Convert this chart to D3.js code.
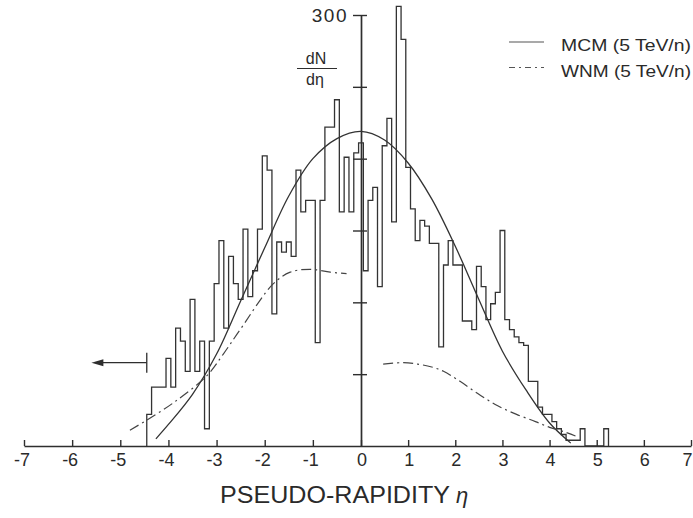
<!DOCTYPE html>
<html><head><meta charset="utf-8">
<script src="https://cdn.jsdelivr.net/npm/d3@7"></script>
<style>
body{margin:0;background:#fff}
svg{display:block}
text{font-family:"Liberation Sans",Arial,sans-serif;fill:#2a2a2a}
</style>
</head><body>
<svg id="c" width="693" height="518"></svg>
<script>
// ---- data ----
const xTickValues = [-7,-6,-5,-4,-3,-2,-1,0,1,2,3,4,5,6,7];
const yTickValues = [0,50,100,150,200,250,300];
const yTickLabels = {300:"300"};

// histogram: bins of width 0.1 in eta, first left edge at -4.45
const histFirstEdge = -4.45;
const histBinWidth = 0.1;
const histCounts = [
  22,41,41,41,61,41,82,73,52,102,      // -4.4 .. -3.5
  52,73,12,73,113,143,82,132,113,102,  // -3.4 .. -2.5
  151,104,122,151,202,192,92,142,135,142, // -2.4 .. -1.5
  132,192,163,171,171,72,171,222,222,241, // -1.4 .. -0.5
  163,201,163,204,211,122,171,180,111,209, // -0.4 .. 0.5
  228,156,306,283,194,165,143,157,153,141, // 0.6 .. 1.5
  141,69,126,143,126,126,87,87,81,125,     // 1.6 .. 2.5
  111,88,99,107,150,88,81,76,72,70,        // 2.6 .. 3.5
  45,45,27,22,22,17,12,8,4,4,              // 3.6 .. 4.5
  4,12,0,0,0,0,12                          // 4.6 .. 5.2
];

// MCM (solid smooth curve)
const mcmEta    = [-4.26,-4.0,-3.5,-3.0,-2.5,-2.0,-1.5,-1.0,-0.5,0,0.5,1.0,1.5,2.0,2.5,3.0,3.5,4.0,4.45];
const mcmValues = [5,15,36,64,101,138,174,200,214,219,213,197,172,139,102,66,39,16,2];

// WNM (dash-dot), two pieces
const wnmLeftEta    = [-4.8,-4.45,-3.9,-3.2,-2.86,-2.51,-1.82,-1.47,-1.06,-0.64,-0.3];
const wnmLeftValues = [11,18,30,49,64,81,113,121,123,121,120];
const wnmRightEta    = [0.47,0.9,1.2,1.5,1.75,2.1,2.5,2.9,3.3,3.7,4.0,4.3,4.55];
const wnmRightValues = [57,58,57,55,52,45,36,28,22,17,13,10,7];

const legendLabels = ["MCM (5 TeV/n)","WNM (5 TeV/n)"];
const arrowEta = [-4.45,-5.6];
const arrowValue = 58;

// ---- drawing ----
const svg = d3.select("#c");
const ink = "#2e2e2e";
const x = d3.scaleLinear().domain([-7,0,7]).range([24,361,691]);
const y = d3.scaleLinear().domain([0,300]).range([446,15]);

// x axis
const xAxis = d3.axisBottom(x).tickValues(xTickValues).tickSizeInner(-6).tickSizeOuter(0)
  .tickPadding(7).tickFormat(d => d < 0 ? "-" + Math.abs(d) : String(d));
const gx = svg.append("g").attr("transform","translate(0," + y(0) + ")").call(xAxis);
gx.select(".domain").attr("stroke",ink).attr("stroke-width",1.6);
gx.selectAll(".tick line").attr("stroke",ink).attr("stroke-width",1.4);
gx.selectAll(".tick text")
  .attr("font-family","Liberation Sans, Arial, sans-serif")
  .attr("font-size",18).attr("fill","#2a2a2a")
  .attr("text-anchor","end").attr("x",d => d === 7 ? 1 : 5.5).attr("dy","0.71em");

// y axis
const yAxis = d3.axisLeft(y).tickValues(yTickValues).tickSizeInner(8).tickSizeOuter(0)
  .tickFormat(d => yTickLabels[d] || "");
const gy = svg.append("g").attr("transform","translate(" + x(0) + ",0)").call(yAxis);
gy.select(".domain").attr("stroke",ink).attr("stroke-width",1.7);
gy.selectAll(".tick line").attr("stroke",ink).attr("stroke-width",1.4).attr("x1",6).attr("x2",-8)
  .filter(d => d === 0).remove();
gy.selectAll(".tick text")
  .attr("font-family","Liberation Sans, Arial, sans-serif")
  .attr("font-size",19).attr("fill","#2a2a2a").attr("letter-spacing",1.5)
  .attr("x",-13).attr("dy","0.36em");

// histogram
const histPts = [[histFirstEdge,0]];
histCounts.forEach((c,i) => {
  const lo = histFirstEdge + i*histBinWidth, hi = lo + histBinWidth;
  histPts.push([lo,c],[hi,c]);
});
histPts.push([histFirstEdge + histCounts.length*histBinWidth, 0]);
const lineXY = d3.line().x(d => x(d[0])).y(d => y(d[1]));
svg.append("path").attr("d", lineXY(histPts)).attr("fill","none")
  .attr("stroke","#333").attr("stroke-width",1.3).attr("stroke-linejoin","miter");

// curves
const smooth = d3.line().x(d => x(d[0])).y(d => y(d[1])).curve(d3.curveCatmullRom.alpha(0.5));
svg.append("path").attr("d", smooth(mcmEta.map((e,i)=>[e,mcmValues[i]])))
  .attr("fill","none").attr("stroke","#333").attr("stroke-width",1.3);
const dashPattern = "10,4,2,4";
svg.append("path").attr("d", smooth(wnmLeftEta.map((e,i)=>[e,wnmLeftValues[i]])))
  .attr("fill","none").attr("stroke","#444").attr("stroke-width",1.2).attr("stroke-dasharray",dashPattern);
svg.append("path").attr("d", smooth(wnmRightEta.map((e,i)=>[e,wnmRightValues[i]])))
  .attr("fill","none").attr("stroke","#444").attr("stroke-width",1.2).attr("stroke-dasharray",dashPattern);

// arrow
const ax0 = x(arrowEta[0]), ax1 = x(arrowEta[1]), ay = y(arrowValue);
svg.append("line").attr("x1",ax0).attr("x2",ax1+8).attr("y1",ay).attr("y2",ay)
  .attr("stroke",ink).attr("stroke-width",1.3);
svg.append("path").attr("d",`M${ax1},${ay} L${ax1+12},${ay-3.5} L${ax1+12},${ay+3.5} Z`).attr("fill",ink);
svg.append("line").attr("x1",ax0).attr("x2",ax0)
  .attr("y1",ay-10).attr("y2",ay+10)
  .attr("stroke",ink).attr("stroke-width",1.3);

// dN/deta label
const lab = svg.append("g");
lab.append("text").attr("x",316).attr("y",64).attr("text-anchor","middle").attr("font-size",16).text("dN");
lab.append("line").attr("x1",297).attr("x2",337).attr("y1",68.5).attr("y2",68.5).attr("stroke",ink).attr("stroke-width",1.2);
lab.append("text").attr("x",315).attr("y",85).attr("text-anchor","middle").attr("font-size",16).text("dη");

// legend
const legend = svg.append("g");
legendLabels.forEach((t,i) => {
  const ly = 42 + i*25.5;
  legend.append("line").attr("x1",509).attr("x2",544).attr("y1",ly).attr("y2",ly)
    .attr("stroke","#555").attr("stroke-width",1.2)
    .attr("stroke-dasharray", i === 0 ? null : "6,4,2,4");
  legend.append("text").attr("x",561).attr("y",ly+9).attr("font-size",17)
    .attr("textLength",130).attr("lengthAdjust","spacingAndGlyphs").text(t);
});

// x axis title
svg.append("text").attr("x",220).attr("y",503).attr("font-size",23)
  .attr("textLength",230).attr("lengthAdjust","spacingAndGlyphs").text("PSEUDO-RAPIDITY");
svg.append("text").attr("x",456).attr("y",503).attr("font-size",22).attr("font-style","italic").text("η");
</script>
</body></html>
